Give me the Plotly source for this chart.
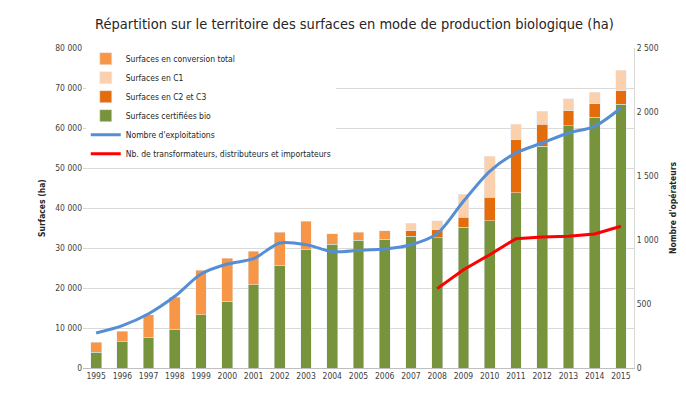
import plotly.graph_objects as go

years = [str(y) for y in range(1995, 2016)]
certifiees = [4000, 6600, 7700, 9700, 13300, 16700, 20800, 25700, 29700, 31000, 31900,
              32200, 32900, 32600, 35200, 36800, 43800, 55400, 60600, 62700, 66000]
conversion_total = [2400, 2600, 5600, 8050, 11200, 10700, 8350, 8300, 7050, 2600, 2100,
                    2100, None, None, None, None, None, None, None, None, None]
c2_c3 = [None] * 12 + [1400, 2000, 2500, 5900, 13300, 5600, 3700, 3400, 3300]
c1 = [None] * 12 + [1950, 2200, 5800, 10200, 3900, 3200, 3000, 2900, 5100]
exploitations = [273, 331, 424, 560, 734, 812, 854, 977, 964, 909, 919, 930, 963,
                 1050, 1302, 1536, 1680, 1758, 1836, 1888, 2031]
years_transfo = [str(y) for y in range(2008, 2016)]
transformateurs = [620, 768, 885, 1010, 1023, 1029, 1047, 1107]

GREEN = "#77933C"
ORANGE = "#F79646"
PEACH = "#FBD0AC"
DARK_ORANGE = "#E46C0A"
BLUE = "#558ED5"
RED = "#FF0000"
FAM = "DejaVu Sans Condensed, Liberation Sans, sans-serif"
TICK = dict(family=FAM, size=8.5, color="#404040")

fig = go.Figure()
fig.add_trace(go.Bar(x=years, y=certifiees, name="Surfaces certifiées bio",
                     marker_color=GREEN, legendrank=4))
fig.add_trace(go.Bar(x=years, y=conversion_total, name="Surfaces en conversion total",
                     marker_color=ORANGE, legendrank=1))
fig.add_trace(go.Bar(x=years, y=c2_c3, name="Surfaces en C2 et C3",
                     marker_color=DARK_ORANGE, legendrank=3))
fig.add_trace(go.Bar(x=years, y=c1, name="Surfaces en C1",
                     marker_color=PEACH, legendrank=2))
fig.add_trace(go.Scatter(x=years, y=exploitations, name="Nombre d'exploitations",
                         mode="lines", line=dict(color=BLUE, width=3, shape="spline", smoothing=0.8),
                         yaxis="y2", legendrank=5))
fig.add_trace(go.Scatter(x=years_transfo, y=transformateurs,
                         name="Nb. de transformateurs, distributeurs et importateurs",
                         mode="lines", line=dict(color=RED, width=3),
                         yaxis="y2", legendrank=6))

fig.update_layout(
    width=686, height=397,
    margin=dict(l=75, r=60, t=40, b=37),
    paper_bgcolor="white", plot_bgcolor="white",
    barmode="stack", bargap=0.59,
    separators=", ",
    font=dict(family=FAM, size=9, color="#404040"),
    title=dict(text="Répartition sur le territoire des surfaces en mode de production biologique (ha)",
               x=0.505, xanchor="center", y=0.96, yanchor="middle",
               font=dict(family=FAM, size=14.5, color="#262626")),
    xaxis=dict(type="category", showgrid=False, showline=True, linecolor="#BFBFBF",
               ticks="", tickfont=TICK),
    yaxis=dict(range=[0, 80000], dtick=10000, tickformat=",d", showgrid=True,
               gridcolor="#D9D9D9", zeroline=False, showline=False, tickfont=TICK,
               title=dict(text="<b>Surfaces (ha)</b>", standoff=8,
                          font=dict(family=FAM, size=8.5, color="#262626"))),
    yaxis2=dict(range=[0, 2500], dtick=500, tickformat=",d", overlaying="y", side="right",
                showgrid=False, zeroline=False, showline=True, linecolor="#D9D9D9",
                tickfont=TICK,
                title=dict(text="<b>Nombre d'opérateurs</b>", standoff=12,
                           font=dict(family=FAM, size=8.5, color="#262626"))),
    legend=dict(x=0.005, y=1.012, xanchor="left", yanchor="top", bgcolor="white",
                traceorder="normal",
                font=dict(family=FAM, size=8.5, color="#262626"),
                tracegroupgap=0, itemwidth=30),
)

fig.write_html("out.html")
